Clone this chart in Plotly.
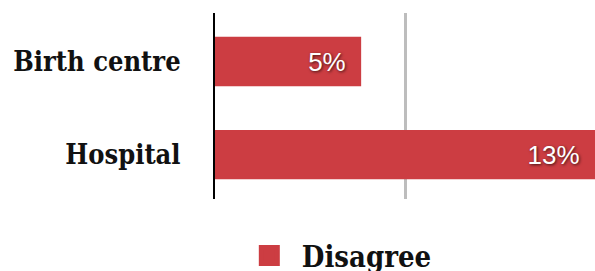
import plotly.graph_objects as go

categories = ["Birth centre", "Hospital"]
disagree = [5, 13]
series_name = "Disagree"
bar_color = "#cc3d42"
serif = "DejaVu Serif Condensed, DejaVu Serif, serif"

fig = go.Figure()
fig.add_trace(go.Bar(
    y=categories, x=disagree, orientation="h",
    marker=dict(color=bar_color, line=dict(width=0)),
    text=[f"{v}%\u00a0\u2009" for v in disagree],
    textposition="inside", insidetextanchor="end",
    textfont=dict(family="Liberation Sans, Arial, sans-serif", size=26, color="white",
                  shadow="1px 1px 3px rgba(0,0,0,0.7)"),
    width=0.53, showlegend=False, hoverinfo="skip", cliponaxis=False,
))
# legend proxy
fig.add_trace(go.Scatter(
    x=[None], y=[None], mode="markers", name=series_name,
    marker=dict(symbol="square", size=16, color=bar_color, line=dict(color=bar_color, width=8)),
))

fig.update_layout(
    width=595, height=271,
    margin=dict(l=215, r=0, t=13, b=72, autoexpand=False),
    plot_bgcolor="white", paper_bgcolor="white",
    xaxis=dict(range=[0, 13], tickvals=[6.5], showticklabels=False, showgrid=True,
               gridcolor="#bdbdbd", gridwidth=2.5, zeroline=False, showline=False, fixedrange=True),
    yaxis=dict(range=[1.478, -0.5215], showline=True, linecolor="black", linewidth=2,
               showgrid=False, ticks="", ticklabelstandoff=27, automargin=False,
               tickfont=dict(family=serif, size=27, color="#111", weight="bold"),
               fixedrange=True),
    legend=dict(orientation="h", xref="container", x=0.398, xanchor="left",
                yref="paper", y=-0.168, yanchor="top",
                font=dict(family=serif, size=29, color="#111", weight="bold"),
                itemwidth=55),
    showlegend=True,
)
fig.write_html("out.html", config={"displayModeBar": False},
               post_script="document.body.style.margin='0';")
